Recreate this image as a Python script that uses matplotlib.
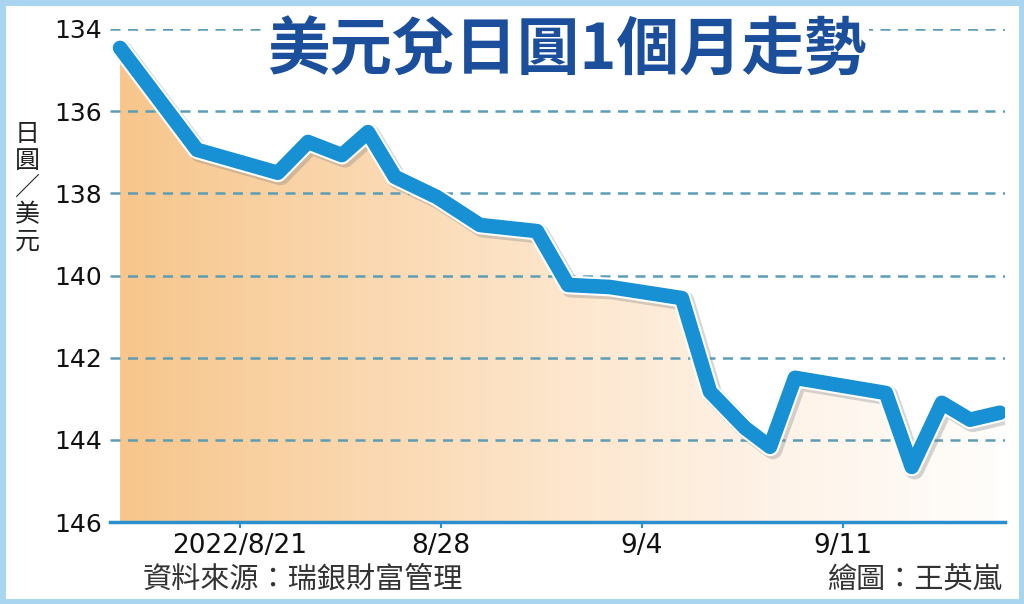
import matplotlib
matplotlib.use("Agg")
import matplotlib.pyplot as plt
import matplotlib.patheffects as pe
from matplotlib.colors import LinearSegmentedColormap
from matplotlib.patches import Rectangle
import numpy as np

# days counted from 2022/8/21
day = [-4.18, -1.50, 1.32, 2.37, 3.55, 4.46, 5.40, 6.86, 8.36, 10.35, 11.43,
       12.89, 15.40, 16.38, 17.60, 18.47, 19.34, 22.51, 23.41, 24.46, 25.44, 26.48]
rate = [134.46, 136.94, 137.50, 136.75, 137.07, 136.51, 137.60, 138.09, 138.77, 138.92,
        140.23, 140.28, 140.55, 142.83, 143.71, 144.17, 142.49, 142.86, 144.66, 143.10,
        143.51, 143.34]
tick_days = [0, 7, 14, 21]
tick_labels = ["2022/8/21", "8/28", "9/4", "9/11"]
y_ticks = [134, 136, 138, 140, 142, 144, 146]

title = "美元兌日圓1個月走勢"
ylabel = "日圓／美元"
source = "資料來源：瑞銀財富管理"
credit = "繪圖：王英嵐"

cjk = ["Noto Sans CJK TC", "DejaVu Sans"]
num_font = ["DejaVu Sans"]

x = np.array(day)
y = np.array(rate)

fig = plt.figure(figsize=(10.24, 6.04), dpi=100)
fig.patch.set_facecolor("white")
fig.patches.append(Rectangle((0.002, 0.003), 0.996, 0.994, transform=fig.transFigure,
                             fill=False, edgecolor="#a9d5f0", linewidth=5))

ax = fig.add_axes([110 / 1024, 82 / 604, 895 / 1024, 493 / 604])
ax.set_xlim(-4.53, 26.66)
ax.set_ylim(146, 134)

# gradient fill under the line
poly = ax.fill_between(x, y, 146, color="none", linewidth=0)
cmap = LinearSegmentedColormap.from_list(
    "fade", ["#f7c68c", "#fad6ac", "#fde6cc", "#fef3e8", "#fffdfb"])
grad = np.linspace(0, 1, 256).reshape(1, -1)
im = ax.imshow(grad, cmap=cmap, aspect="auto", extent=[x[0], x[-1], 146, 134],
               zorder=1, interpolation="bicubic")
im.set_clip_path(poly.get_paths()[0], transform=ax.transData)

for v in y_ticks[:-1]:
    ax.axhline(v, color="#5c9db6", lw=1.8, ls=(0, (4, 3)), zorder=2)

ax.plot(x, y, color="#1890d4", lw=10.5, solid_capstyle="round", solid_joinstyle="round",
        zorder=5,
        path_effects=[pe.SimpleLineShadow(offset=(2, -2), shadow_color="#777777",
                                          alpha=0.3, linewidth=14),
                      pe.Stroke(linewidth=13.5, foreground="white"),
                      pe.Normal()])

for s in ["top", "right", "left"]:
    ax.spines[s].set_visible(False)
ax.spines["bottom"].set_color("#2b8fce")
ax.spines["bottom"].set_linewidth(2.5)

ax.set_yticks(y_ticks)
ax.set_yticklabels([str(v) for v in y_ticks], fontsize=18, family=num_font, color="#111111")
ax.tick_params(axis="y", length=0, pad=6)
ax.set_xticks(tick_days)
ax.set_xticklabels(tick_labels, fontsize=19, family=num_font, color="#111111")
ax.tick_params(axis="x", length=4, width=1.5, color="#2b8fce", pad=4)

fig.text(567 / 1024, 1 - 51 / 604, title, ha="center", va="center", fontsize=45,
         fontweight="bold", color="#1b4f9b", family=cjk,
         bbox=dict(facecolor="white", edgecolor="none", pad=2), zorder=10)
fig.text(27 / 1024, 1 - 188 / 604, "\n".join(ylabel), ha="center", va="center",
         fontsize=18, color="#222222", family=cjk, linespacing=1.05)
fig.text(143 / 1024, 1 - 580 / 604, source, ha="left", va="center", fontsize=21,
         color="#333333", family=cjk, fontweight="light")
fig.text(1002 / 1024, 1 - 580 / 604, credit, ha="right", va="center", fontsize=21,
         color="#333333", family=cjk, fontweight="light")

fig.savefig("out.png", dpi=100)
